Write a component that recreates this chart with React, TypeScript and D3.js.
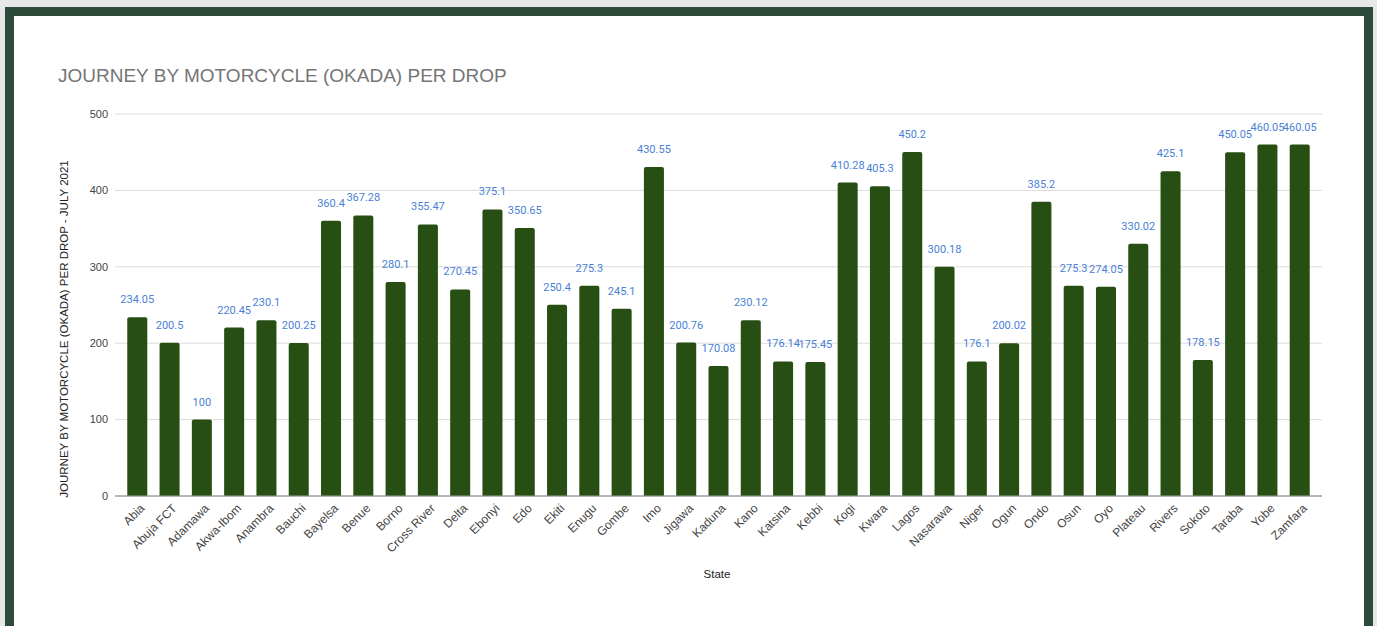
import React, { useEffect, useRef } from 'react';
import * as d3 from 'd3';

const states = [
  'Abia', 'Abuja FCT', 'Adamawa', 'Akwa-Ibom', 'Anambra', 'Bauchi', 'Bayelsa', 'Benue', 'Borno',
  'Cross River', 'Delta', 'Ebonyi', 'Edo', 'Ekiti', 'Enugu', 'Gombe', 'Imo', 'Jigawa', 'Kaduna',
  'Kano', 'Katsina', 'Kebbi', 'Kogi', 'Kwara', 'Lagos', 'Nasarawa', 'Niger', 'Ogun', 'Ondo',
  'Osun', 'Oyo', 'Plateau', 'Rivers', 'Sokoto', 'Taraba', 'Yobe', 'Zamfara',
];

const prices = [
  234.05, 200.5, 100, 220.45, 230.1, 200.25, 360.4, 367.28, 280.1,
  355.47, 270.45, 375.1, 350.65, 250.4, 275.3, 245.1, 430.55, 200.76, 170.08,
  230.12, 176.14, 175.45, 410.28, 405.3, 450.2, 300.18, 176.1, 200.02, 385.2,
  275.3, 274.05, 330.02, 425.1, 178.15, 450.05, 460.05, 460.05,
];

const yTicks = [0, 100, 200, 300, 400, 500];

const title = 'JOURNEY BY MOTORCYCLE (OKADA) PER DROP';
const yTitle = 'JOURNEY BY MOTORCYCLE (OKADA) PER DROP - JULY 2021';
const xTitle = 'State';

const W = 1377;
const H = 626;

const OkadaChart: React.FC = () => {
  const svgRef = useRef<SVGSVGElement>(null);

  useEffect(() => {
    if (!svgRef.current) return;
    const root = d3.select(svgRef.current);
    root.selectAll('*').remove();

    const roboto = 'Roboto, Arial, sans-serif';
    const arial = 'Arial, "Liberation Sans", sans-serif';

    // page + frame
    root.append('rect').attr('width', W).attr('height', H).attr('fill', '#e7e8e7');
    root.append('rect').attr('x', 5).attr('y', 7).attr('width', 1368).attr('height', H).attr('fill', '#2e4a3a');
    root.append('rect').attr('x', 14).attr('y', 16).attr('width', 1350).attr('height', H).attr('fill', '#ffffff');

    const left = 115, right = 1322, top = 114, bottom = 496;

    const x = d3.scaleBand<string>()
      .domain(states)
      .range([left, right])
      .paddingInner(0.38)
      .paddingOuter(0.38);

    const y = d3.scaleLinear().domain([0, 500]).range([bottom, top]);

    // title
    root.append('text')
      .attr('x', 58).attr('y', 82)
      .attr('font-family', arial)
      .attr('font-size', 19)
      .attr('fill', '#757575')
      .text(title);

    // grid
    root.append('g')
      .selectAll('line')
      .data(yTicks)
      .join('line')
      .attr('x1', left).attr('x2', right)
      .attr('y1', d => y(d)).attr('y2', d => y(d))
      .attr('stroke', d => (d === 0 ? '#9e9e9e' : '#dcdcdc'))
      .attr('stroke-width', 1);

    // y tick labels
    root.append('g')
      .selectAll('text')
      .data(yTicks)
      .join('text')
      .attr('x', 108)
      .attr('y', d => y(d))
      .attr('dy', '0.35em')
      .attr('text-anchor', 'end')
      .attr('font-family', arial)
      .attr('font-size', 11)
      .attr('fill', '#444')
      .text(d => d);

    // y axis title
    root.append('text')
      .attr('transform', `translate(68,${(top + bottom) / 2 + 24}) rotate(-90)`)
      .attr('text-anchor', 'middle')
      .attr('font-family', arial)
      .attr('font-size', 11.5)
      .attr('fill', '#222')
      .text(yTitle);

    // bars
    root.append('g')
      .selectAll('path')
      .data(states)
      .join('path')
      .attr('d', (s, i) => {
        const x0 = x(s) || 0;
        const w = x.bandwidth();
        const y0 = y(prices[i]);
        const r = 2;
        return `M${x0},${bottom}V${y0 + r}Q${x0},${y0} ${x0 + r},${y0}H${x0 + w - r}Q${x0 + w},${y0} ${x0 + w},${y0 + r}V${bottom}Z`;
      })
      .attr('fill', '#274e13');

    // baseline on top
    root.append('line')
      .attr('x1', left).attr('x2', right)
      .attr('y1', y(0)).attr('y2', y(0))
      .attr('stroke', '#9e9e9e');

    // value labels
    root.append('g')
      .selectAll('text')
      .data(states)
      .join('text')
      .attr('x', s => (x(s) || 0) + x.bandwidth() / 2)
      .attr('y', (s, i) => y(prices[i]) - 14)
      .attr('text-anchor', 'middle')
      .attr('font-family', roboto)
      .attr('font-size', 11)
      .attr('fill', '#4a7fd6')
      .text((s, i) => String(prices[i]));

    // x labels
    root.append('g')
      .selectAll('text')
      .data(states)
      .join('text')
      .attr('transform', s => `translate(${(x(s) || 0) + x.bandwidth() / 2 + 5},${bottom + 10}) rotate(-45)`)
      .attr('text-anchor', 'end')
      .attr('dy', '0.35em')
      .attr('font-family', arial)
      .attr('font-size', 12)
      .attr('fill', '#444')
      .text(s => s);

    // x title
    root.append('text')
      .attr('x', 717).attr('y', 578)
      .attr('text-anchor', 'middle')
      .attr('font-family', arial)
      .attr('font-size', 11.5)
      .attr('fill', '#222')
      .text(xTitle);
  }, []);

  return (
    <svg
      ref={svgRef}
      width={W}
      height={H}
      style={{ position: 'absolute', left: 0, top: 0, display: 'block' }}
    />
  );
};

export default function App() {
  return <OkadaChart />;
}
